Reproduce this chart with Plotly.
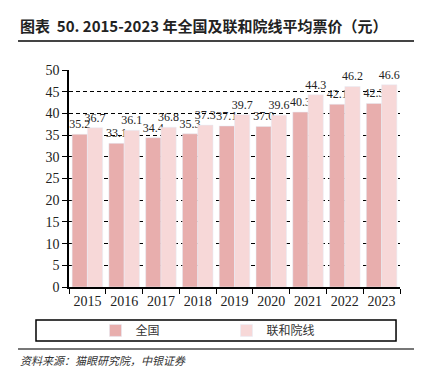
import plotly.graph_objects as go

years = ["2015", "2016", "2017", "2018", "2019", "2020", "2021", "2022", "2023"]
national = [35.2, 33.1, 34.4, 35.3, 37.1, 37.0, 40.3, 42.1, 42.3]
lianhe = [36.7, 36.1, 36.8, 37.3, 39.7, 39.6, 44.3, 46.2, 46.6]
series_names = ["全国", "联和院线"]
y_ticks = [0, 5, 10, 15, 20, 25, 30, 35, 40, 45, 50]

serif = "Liberation Serif, Times New Roman, serif"
cjk = "Noto Sans CJK SC"

fig = go.Figure()
fig.add_bar(x=years, y=national, name=series_names[0], marker_color="#E8AEAD",
            text=[f"{v:.1f}" for v in national], textposition="outside",
            constraintext="none",
            textfont=dict(family=serif, size=12, color="#222"), cliponaxis=False)
fig.add_bar(x=years, y=lianhe, name=series_names[1], marker_color="#F7D8D8",
            text=[f"{v:.1f}" for v in lianhe], textposition="outside",
            constraintext="none",
            textfont=dict(family=serif, size=12, color="#222"), cliponaxis=False)

fig.update_layout(
    width=422, height=367,
    margin=dict(l=61, r=30, t=62, b=88),
    paper_bgcolor="white", plot_bgcolor="white",
    barmode="group", bargap=0.17, bargroupgap=0.0,
    showlegend=True,
    legend=dict(orientation="h", x=0.08, xanchor="left", y=-0.2, yanchor="middle",
                font=dict(family=cjk, size=12, color="#333"),
                entrywidth=86, entrywidthmode="pixels", itemwidth=30,
                bgcolor="rgba(0,0,0,0)"),
    font=dict(family=serif, size=13, color="#222"),
)
fig.update_yaxes(range=[0, 50], tickvals=y_ticks, showgrid=True, gridcolor="black",
                 griddash="4px,3px", gridwidth=1, showline=True, linecolor="black",
                 linewidth=1.5, ticks="outside", ticklen=5, tickcolor="black",
                 tickfont=dict(family=serif, size=14, color="#222"), zeroline=False)
fig.update_xaxes(showline=True, linecolor="black", linewidth=1.5, ticks="outside",
                 tickson="boundaries", ticklen=5, tickcolor="black", tickangle=0,
                 tickfont=dict(family=serif, size=14, color="#222"))

# title
fig.add_annotation(text="<b>图表  50. 2015-2023 年全国及联和院线平均票价（元）</b>",
                   xref="paper", yref="paper", x=-0.154, y=1.207, xanchor="left",
                   yanchor="middle", showarrow=False,
                   font=dict(family=cjk, size=15, color="#222"))
# lines
fig.add_shape(type="line", xref="paper", yref="paper", x0=-0.154, x1=1.0725,
              y0=1.1336, y1=1.1336, line=dict(color="#444", width=2))
fig.add_shape(type="line", xref="paper", yref="paper", x0=-0.154, x1=1.0725,
              y0=-0.2857, y1=-0.2857, line=dict(color="#777", width=2))
# legend box
fig.add_shape(type="rect", xref="paper", yref="paper", x0=-0.0997, x1=0.988,
              y0=-0.249, y1=-0.152, line=dict(color="black", width=1.5))
# source
fig.add_annotation(text="<i>资料来源：猫眼研究院，中银证券</i>",
                   xref="paper", yref="paper", x=-0.155, y=-0.336, xanchor="left",
                   yanchor="middle", showarrow=False,
                   font=dict(family=cjk, size=11, color="#333"))

fig.write_html("out.html")
